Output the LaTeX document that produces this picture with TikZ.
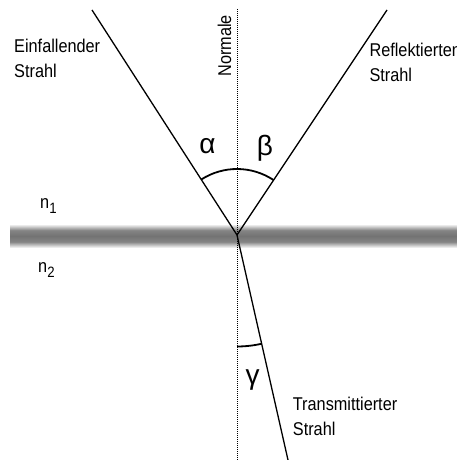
\documentclass[tikz,border=0pt]{standalone}
\usepackage{fontspec}
\setmainfont{Liberation Sans}
\usepackage{graphicx}
\pgfdeclareverticalshading{bandsh}{100bp}{color(0bp)=(white); color(25bp)=(white); color(38bp)=(black!48); color(50bp)=(black!55); color(62bp)=(black!48); color(75bp)=(white); color(100bp)=(white)}
\newcommand\narw[1]{\scalebox{0.88}[1]{#1}}
\tikzset{
  lbl/.style={inner sep=0pt, anchor=base west, font=\fontsize{18.5}{22}\selectfont},
  greek/.style={inner sep=0pt, anchor=center, font=\fontsize{28}{32}\selectfont},
  ray/.style={line width=1.3pt, black},
  anglearc/.style={line width=1.8pt, black},
  normal/.style={line width=1pt, dash pattern=on 1pt off 1pt}
}
\begin{document}
\begin{tikzpicture}[x=1pt,y=1pt]
\useasboundingbox (0,0) rectangle (457,460);
\fill[white] (0,0) rectangle (457,460);
% interface band
\shade[shading=bandsh] (10,212) rectangle (470,236);
% points
\coordinate (C) at (237,225);
\coordinate (I) at (92,450);
\coordinate (R) at (387,450);
\coordinate (T) at (288,0);
\coordinate (Ntop) at (237,451);
\coordinate (Nbot) at (237,0);
% normal
\draw[normal] (Ntop) -- (Nbot);
% rays
\draw[ray] (I) -- (C);
\draw[ray] (C) -- (R);
\draw[ray] (C) -- (T);
% angle arcs
\draw[anglearc] (C) ++(122.8:66) arc[start angle=122.8, end angle=56.3, radius=66];
\draw[anglearc] (C) ++(270:111.5) arc[start angle=270, end angle=282.8, radius=111.5];
% labels
\node[lbl] (ein1) at (14,407.3) {\narw{Einfallender}};
\node[lbl] (ein2) at (14,382.6) {\narw{Strahl}};
\node[lbl] (ref1) at (369.3,403.3) {\narw{Reflektierten}};
\node[lbl] (ref2) at (369.3,378.6) {\narw{Strahl}};
\node[lbl] (tra1) at (292.7,49.3) {\narw{Transmittierter}};
\node[lbl] (tra2) at (292.7,24.6) {\narw{Strahl}};
\node[lbl, rotate=90] (nor) at (231,383.3) {\narw{Normale}};
\node[lbl] (n1) at (40,251) {\narw{n\raisebox{-4.5pt}{\fontsize{15}{18}\selectfont 1}}};
\node[lbl] (n2) at (38,187.3) {\narw{n\raisebox{-4.5pt}{\fontsize{15}{18}\selectfont 2}}};
\node[greek] (al) at (207.5,314) {α};
\node[greek] (be) at (265,312) {β};
\node[greek] (ga) at (252.5,80) {γ};
\end{tikzpicture}
\end{document}
